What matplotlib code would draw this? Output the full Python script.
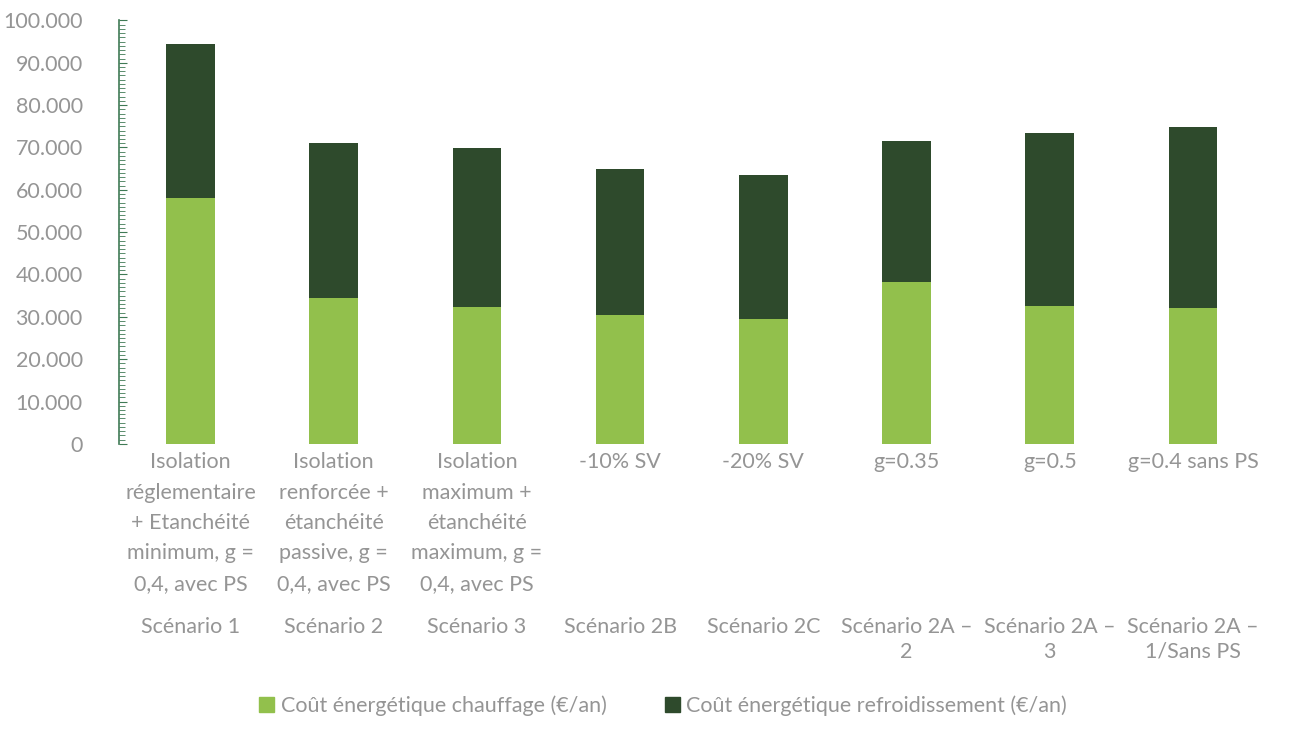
import matplotlib
matplotlib.use("Agg")
import matplotlib.pyplot as plt
from matplotlib.ticker import FuncFormatter, MultipleLocator
from matplotlib.patches import Patch
from matplotlib.transforms import blended_transform_factory

plt.rcParams["font.family"] = ["Lato", "DejaVu Sans"]

# ----------------------------------------------------------------------
# Données
# ----------------------------------------------------------------------
descriptions = [
    "Isolation\nréglementaire\n+ Etanchéité\nminimum, g =\n0,4, avec PS",
    "Isolation\nrenforcée +\nétanchéité\npassive, g =\n0,4, avec PS",
    "Isolation\nmaximum +\nétanchéité\nmaximum, g =\n0,4, avec PS",
    "-10% SV",
    "-20% SV",
    "g=0.35",
    "g=0.5",
    "g=0.4 sans PS",
]
scenarios = [
    "Scénario 1", "Scénario 2", "Scénario 3", "Scénario 2B", "Scénario 2C",
    "Scénario 2A –\n2", "Scénario 2A –\n3", "Scénario 2A –\n1/Sans PS",
]
chauffage = [58100, 34400, 32400, 30400, 29400, 38200, 32600, 32000]
refroidissement = [36300, 36700, 37500, 34500, 34200, 33300, 40900, 42900]

COR_CHAUD = "#92c04c"
COR_FROID = "#2e4a2c"
COR_TEXTE = "#959595"
COR_AXE = "#3f7a55"
FS = 15.5

fig = plt.figure(figsize=(12.93, 7.30), dpi=100)
ax = fig.add_axes([0.092, 0.392, 0.886, 0.580])

x = range(len(descriptions))
ax.bar(x, chauffage, width=0.34, color=COR_CHAUD, zorder=2)
ax.bar(x, refroidissement, width=0.34, bottom=chauffage, color=COR_FROID, zorder=2)

ax.set_xlim(-0.5, len(descriptions) - 0.5)
ax.set_ylim(0, 100000)
ax.yaxis.set_major_locator(MultipleLocator(10000))
ax.yaxis.set_minor_locator(MultipleLocator(1000))
ax.yaxis.set_major_formatter(FuncFormatter(lambda v, p: f"{int(v):,}".replace(",", ".")))

for s in ["top", "right", "bottom"]:
    ax.spines[s].set_visible(False)
ax.spines["left"].set_color(COR_AXE)
ax.spines["left"].set_linewidth(1.2)
ax.tick_params(axis="y", which="major", direction="in", length=6, color=COR_AXE,
               labelcolor=COR_TEXTE, labelsize=FS, pad=26)
ax.tick_params(axis="y", which="minor", direction="in", length=4, color=COR_AXE)

ax.set_xticks(list(x))
ax.set_xticklabels(descriptions, fontsize=FS, color=COR_TEXTE, linespacing=1.65, va="top")
ax.tick_params(axis="x", length=0, pad=6)

trans = blended_transform_factory(ax.transData, fig.transFigure)
for i, nom in enumerate(scenarios):
    ax.text(i, 0.155, nom, transform=trans, ha="center", va="top",
            fontsize=FS, color=COR_TEXTE, linespacing=1.3)

handles = [Patch(color=COR_CHAUD, label="Coût énergétique chauffage (€/an)"),
           Patch(color=COR_FROID, label="Coût énergétique refroidissement (€/an)")]
fig.legend(handles=handles, loc="center", bbox_to_anchor=(0.513, 0.033), ncol=2,
           frameon=False, fontsize=FS, labelcolor=COR_TEXTE, handlelength=0.7,
           handleheight=0.7, handletextpad=0.3, columnspacing=2.7)

fig.savefig("out.png", dpi=100)
